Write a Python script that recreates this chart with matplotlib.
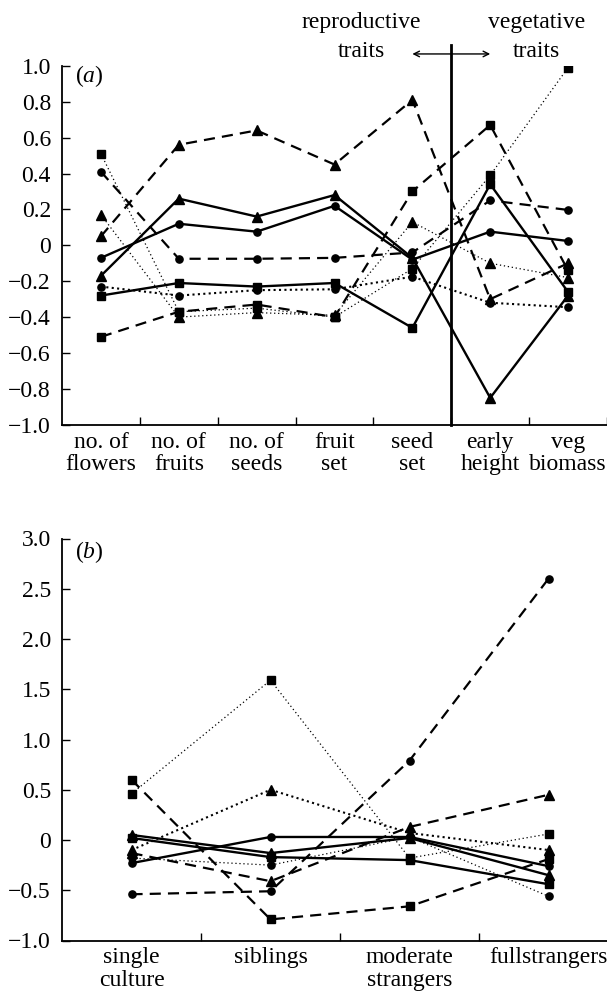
import matplotlib
matplotlib.use("Agg")
import matplotlib.pyplot as plt
from matplotlib.ticker import FixedLocator, FuncFormatter

plt.rcParams['font.family'] = ['Liberation Serif', 'DejaVu Serif']
plt.rcParams['mathtext.fontset'] = 'custom'
plt.rcParams['mathtext.rm'] = 'Liberation Serif'
plt.rcParams['mathtext.it'] = 'Liberation Serif:italic'

FS = 17

# ---------------- data: panel (a) ----------------
a_categories = ["no. of\nflowers", "no. of\nfruits", "no. of\nseeds", "fruit\nset",
                "seed\nset", "early\nheight", "veg\nbiomass"]
a_solid_square = [-0.28, -0.21, -0.23, -0.21, -0.46, 0.34, -0.26]
a_solid_circle = [-0.07, 0.12, 0.076, 0.22, -0.08, 0.076, 0.024]
a_solid_triangle = [-0.17, 0.26, 0.16, 0.28, -0.07, -0.85, -0.28]
a_dashed_square = [-0.51, -0.37, -0.33, -0.40, 0.30, 0.67, -0.14]
a_dashed_circle = [0.41, -0.075, -0.075, -0.07, -0.04, 0.25, 0.197]
a_dashed_triangle = [0.05, 0.56, 0.64, 0.45, 0.81, -0.30, -0.10]
a_dotted_square = [0.51, -0.37, -0.35, -0.40, -0.13, 0.39, 0.99]
a_dotted_circle = [-0.23, -0.28, -0.25, -0.245, -0.175, -0.32, -0.345]
a_dotted_triangle = [0.17, -0.40, -0.375, -0.39, 0.13, -0.10, -0.18]
a_yticks = [1.0, 0.8, 0.6, 0.4, 0.2, 0.0, -0.2, -0.4, -0.6, -0.8, -1.0]

# ---------------- data: panel (b) ----------------
b_categories = ["single\nculture", "siblings", "moderate\nstrangers", "fullstrangers"]
b_solid_square = [0.02, -0.17, -0.20, -0.44]
b_solid_circle = [-0.23, 0.03, 0.03, -0.26]
b_solid_triangle = [0.05, -0.13, 0.02, -0.35]
b_dashed_square = [0.60, -0.79, -0.66, -0.19]
b_dashed_circle = [-0.54, -0.51, 0.79, 2.60]
b_dashed_triangle = [-0.13, -0.41, 0.13, 0.45]
b_dotted_square = [0.46, 1.59, -0.18, 0.06]
b_dotted_circle = [-0.18, -0.25, 0.03, -0.56]
b_dotted_triangle = [-0.10, 0.50, 0.07, -0.10]
b_yticks = [3.0, 2.5, 2.0, 1.5, 1.0, 0.5, 0.0, -0.5, -1.0]

MS = {'s': 6.0, 'o': 5.2, '^': 7.0}
STYLE = {
    'solid': dict(linestyle='-', linewidth=1.7),
    'dashed': dict(linestyle=(0, (5, 3.2)), linewidth=1.6),
    'dotted': dict(linestyle=(0, (1, 2.2)), linewidth=0.9),
    'dotted_thick': dict(linestyle=(0, (1, 1.6)), linewidth=1.5),
}


def plot_series(ax, x, y, marker, style):
    ax.plot(x, y, color='black', marker=marker, markersize=MS[marker],
            markerfacecolor='black', markeredgecolor='black', **STYLE[style])


def fmt(v, pos):
    if abs(v) < 1e-9:
        return "0"
    return f"{v:.1f}".replace("-", "\u2212")


def style_axes(ax, ncat, xmax, yticks, cats):
    ax.spines['top'].set_visible(False)
    ax.spines['right'].set_visible(False)
    ax.spines['left'].set_linewidth(1.3)
    ax.spines['bottom'].set_linewidth(1.3)
    ax.set_xlim(-0.5, xmax)
    ax.set_ylim(min(yticks), max(yticks))
    ax.yaxis.set_major_locator(FixedLocator(yticks))
    ax.yaxis.set_major_formatter(FuncFormatter(fmt))
    ax.tick_params(axis='y', direction='in', length=6, width=1.0, labelsize=FS, pad=8)
    ax.xaxis.set_major_locator(FixedLocator([i + 0.5 for i in range(ncat)]))
    ax.xaxis.set_major_formatter(FuncFormatter(lambda v, p: ""))
    ax.xaxis.set_minor_locator(FixedLocator(list(range(ncat))))
    ax.set_xticklabels(cats, minor=True, fontsize=FS, linespacing=1.1)
    ax.tick_params(axis='x', which='major', direction='in', length=6, width=1.0)
    ax.tick_params(axis='x', which='minor', length=0, pad=5)


fig = plt.figure(figsize=(6.07, 10.0), dpi=100)

# ---------------- panel (a) ----------------
axa = fig.add_axes([62 / 607, 1 - 424.8 / 1000, 545 / 607, 359.0 / 1000])
xa = list(range(len(a_categories)))
plot_series(axa, xa, a_dotted_square, 's', 'dotted')
plot_series(axa, xa, a_dotted_triangle, '^', 'dotted')
plot_series(axa, xa, a_dotted_circle, 'o', 'dotted_thick')
plot_series(axa, xa, a_dashed_square, 's', 'dashed')
plot_series(axa, xa, a_dashed_circle, 'o', 'dashed')
plot_series(axa, xa, a_dashed_triangle, '^', 'dashed')
plot_series(axa, xa, a_solid_square, 's', 'solid')
plot_series(axa, xa, a_solid_circle, 'o', 'solid')
plot_series(axa, xa, a_solid_triangle, '^', 'solid')
style_axes(axa, len(a_categories), 6.5, a_yticks, a_categories)

axa.plot([4.5, 4.5], [-1.0, 1.115], color='black', linewidth=2.0, clip_on=False)
axa.annotate("", xy=(4.0, 1.066), xytext=(5.0, 1.066), xycoords='data',
             arrowprops=dict(arrowstyle='<->', color='black', lw=1.0,
                             shrinkA=0, shrinkB=0, mutation_scale=10),
             annotation_clip=False)
axa.text(3.34, 1.244, "reproductive", ha='center', va='center', fontsize=FS, clip_on=False)
axa.text(3.34, 1.077, "traits", ha='center', va='center', fontsize=FS, clip_on=False)
axa.text(5.59, 1.244, "vegetative", ha='center', va='center', fontsize=FS, clip_on=False)
axa.text(5.59, 1.077, "traits", ha='center', va='center', fontsize=FS, clip_on=False)
axa.text(-0.33, 0.943, r"($\it{a}$)", ha='left', va='center', fontsize=FS)

# ---------------- panel (b) ----------------
axb = fig.add_axes([62 / 607, 1 - 940.5 / 1000, 545 / 607, 402.0 / 1000])
xb = list(range(len(b_categories)))
plot_series(axb, xb, b_dotted_square, 's', 'dotted')
plot_series(axb, xb, b_dotted_triangle, '^', 'dotted_thick')
plot_series(axb, xb, b_dotted_circle, 'o', 'dotted')
plot_series(axb, xb, b_dashed_square, 's', 'dashed')
plot_series(axb, xb, b_dashed_circle, 'o', 'dashed')
plot_series(axb, xb, b_dashed_triangle, '^', 'dashed')
plot_series(axb, xb, b_solid_square, 's', 'solid')
plot_series(axb, xb, b_solid_circle, 'o', 'solid')
plot_series(axb, xb, b_solid_triangle, '^', 'solid')
style_axes(axb, len(b_categories), -0.5 + 545 / 139.0, b_yticks, b_categories)
axb.text(-0.41, 2.87, r"($\it{b}$)", ha='left', va='center', fontsize=FS)

fig.savefig("out.png", dpi=100)
